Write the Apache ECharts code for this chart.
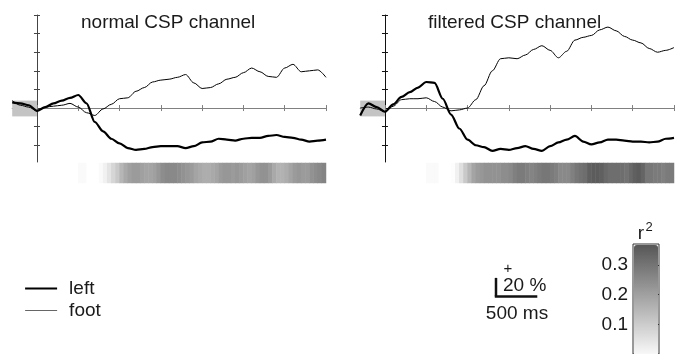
<!DOCTYPE html>
<html>
<head>
<meta charset="utf-8">
<script src="https://cdn.jsdelivr.net/npm/echarts@6/dist/echarts.min.js"></script>
<style>
  html, body { margin: 0; padding: 0; background: #fff; }
  #chart { width: 694px; height: 354px; }
</style>
</head>
<body>
<div id="chart"></div>
<script>
// time (ms) of the sampled points
const times = [-300, -200, -100, 0, 100, 200, 300, 400, 500, 600, 700, 800, 900, 1000,
  1100, 1200, 1300, 1400, 1500, 1600, 1700, 1800, 1900, 2000, 2100, 2200, 2300, 2400,
  2500, 2600, 2700, 2800, 2900, 3000, 3100, 3200, 3300, 3400, 3500];

// normal CSP channel, percent
const normalLeft = [6, 5, 3, -3, 1, 5, 8, 11, 14, 5, -15, -25, -33, -38, -43, -45, -44, -42, -41, -41,
  -41, -43, -41, -37, -36, -33, -34, -35, -33, -32, -32, -30, -29, -31, -32, -34, -36, -35, -34];
const normalFoot = [8, 3, 1, -3, 1, 2, 3, 5, 1, -5, -8, -1, 4, 10, 11, 18, 22, 28, 30, 31,
  33, 36, 27, 21, 22, 26, 31, 33, 38, 43, 39, 34, 33, 43, 47, 39, 40, 41, 33];

// filtered CSP channel, percent
const filteredLeft = [-8, 5, 1, -4, 4, 12, 17, 22, 28, 27, 10, -7, -22, -34, -40, -42, -46, -44, -45, -43,
  -41, -44, -46, -41, -37, -34, -30, -36, -39, -37, -34, -34, -35, -36, -36, -37, -36, -33, -32];
const filteredFoot = [0, 1, -1, -4, 2, 9, 10, 10, 11, 7, 1, -3, -2, 0, 9, 24, 40, 53, 54, 53,
  57, 63, 67, 62, 54, 61, 73, 76, 78, 84, 87, 83, 77, 73, 70, 64, 60, 62, 65];

// r^2 strips, 50 ms bins starting at
const binStarts = [500, 550, 600, 650, 700, 750, 800, 850, 900, 950, 1000, 1050, 1100, 1150,
  1200, 1250, 1300, 1350, 1400, 1450, 1500, 1550, 1600, 1650, 1700, 1750, 1800, 1850, 1900,
  1950, 2000, 2050, 2100, 2150, 2200, 2250, 2300, 2350, 2400, 2450, 2500, 2550, 2600, 2650,
  2700, 2750, 2800, 2850, 2900, 2950, 3000, 3050, 3100, 3150, 3200, 3250, 3300, 3350, 3400, 3450];
const normalR2 = [0.01, 0.01, 0, 0, 0, 0.01, 0.03, 0.06, 0.09, 0.12, 0.16, 0.19, 0.21, 0.22,
  0.22, 0.21, 0.2, 0.2, 0.21, 0.23, 0.25, 0.26, 0.26, 0.26, 0.25, 0.24, 0.23, 0.22, 0.2,
  0.19, 0.18, 0.18, 0.19, 0.2, 0.22, 0.23, 0.23, 0.22, 0.23, 0.22, 0.21, 0.2, 0.21, 0.23,
  0.24, 0.24, 0.22, 0.19, 0.17, 0.17, 0.18, 0.2, 0.22, 0.23, 0.22, 0.22, 0.24, 0.25, 0.26, 0.27];
const filteredR2 = [0.01, 0.01, 0.01, 0, 0, 0, 0.005, 0.03, 0.07, 0.12, 0.16, 0.2, 0.22, 0.23,
  0.24, 0.24, 0.24, 0.24, 0.25, 0.25, 0.26, 0.28, 0.29, 0.29, 0.28, 0.27, 0.28, 0.29, 0.3,
  0.3, 0.29, 0.28, 0.26, 0.26, 0.26, 0.28, 0.3, 0.31, 0.32, 0.35, 0.36, 0.36, 0.35, 0.33,
  0.32, 0.32, 0.32, 0.32, 0.31, 0.33, 0.35, 0.36, 0.34, 0.3, 0.3, 0.29, 0.29, 0.28, 0.29, 0.29];

const xTicks = [0, 500, 1000, 1500, 2000, 2500, 3000, 3500];
const yTicks = [-40, -20, 0, 20, 40, 60, 80, 100];
const r2Ticks = [0.1, 0.2, 0.3];
const baseline = [-300, 0, -9, 8]; // t0, t1, low, high of grey box

const font = "'Liberation Sans', Arial, sans-serif";
const chart = echarts.init(document.getElementById('chart'), null, { renderer: 'canvas' });

// two axes per direction so ticks cross the line
const panelAxes = (grid, xi, yi, yColor) => {
  const xa = [
    {
      gridIndex: grid, type: 'value', min: -300, max: 3500,
      axisLine: { show: true, onZero: true, onZeroAxisIndex: yi, lineStyle: { color: '#808080' } },
      axisTick: { show: true, customValues: xTicks, length: 3, lineStyle: { color: '#808080' } },
      axisLabel: { show: false }, splitLine: { show: false },
    },
    {
      gridIndex: grid, type: 'value', min: -300, max: 3500, position: 'bottom',
      axisLine: { show: false, onZero: true, onZeroAxisIndex: yi },
      axisTick: { show: true, inside: true, customValues: xTicks, length: 3, lineStyle: { color: '#808080' } },
      axisLabel: { show: false }, splitLine: { show: false },
    },
  ];
  const ya = [
    {
      gridIndex: grid, type: 'value', min: -58, max: 100,
      axisLine: { show: true, onZero: true, onZeroAxisIndex: xi, lineStyle: { color: yColor } },
      axisTick: { show: true, customValues: yTicks, length: 3, lineStyle: { color: yColor } },
      axisLabel: { show: false }, splitLine: { show: false },
    },
    {
      gridIndex: grid, type: 'value', min: -58, max: 100, position: 'left',
      axisLine: { show: false, onZero: true, onZeroAxisIndex: xi },
      axisTick: { show: true, inside: true, customValues: yTicks, length: 3, lineStyle: { color: yColor } },
      axisLabel: { show: false }, splitLine: { show: false },
    },
  ];
  return { xa, ya };
};

const p0 = panelAxes(0, 0, 0, '#444');
const p1 = panelAxes(1, 2, 2, '#111');

const stripX = (grid) => ({
  gridIndex: grid, type: 'category', data: binStarts, show: false,
});
const stripY = (grid) => ({
  gridIndex: grid, type: 'category', data: ['r2'], show: false,
});

const lineSeries = (name, data, xi, yi, thick, withBox) => {
  const s = {
    name, type: 'line', xAxisIndex: xi, yAxisIndex: yi,
    data: times.map((t, i) => [t, data[i]]),
    showSymbol: false, symbol: 'none', z: 3,
    smooth: 0.3, smoothMonotone: 'x',
    lineStyle: { color: '#000', width: thick ? 2.2 : 1 },
    itemStyle: { color: '#000' },
  };
  if (withBox) {
    s.markArea = {
      silent: true,
      itemStyle: { color: '#c4c4c4' },
      data: [[{ xAxis: baseline[0], yAxis: baseline[3] }, { xAxis: baseline[1], yAxis: baseline[2] }]],
    };
  }
  return s;
};

const option = {
  animation: false,
  textStyle: { fontFamily: font },
  title: [
    { text: 'normal CSP channel', left: 81, top: 13, padding: 0,
      textStyle: { fontSize: 19, fontWeight: 'normal', color: '#1a1a1a', fontFamily: font } },
    { text: 'filtered CSP channel', left: 428, top: 13, padding: 0,
      textStyle: { fontSize: 19, fontWeight: 'normal', color: '#1a1a1a', fontFamily: font } },
  ],
  legend: {
    data: [
      { name: 'left', lineStyle: { width: 2.2, color: '#000' } },
      { name: 'foot', lineStyle: { width: 1.2, color: '#666' } },
    ],
    orient: 'vertical', left: 24, top: 279, padding: 0,
    itemWidth: 32, itemHeight: 12, itemGap: 3,
    itemStyle: { opacity: 0, borderWidth: 0 },
    textStyle: { fontSize: 19, color: '#1a1a1a', lineHeight: 19, padding: [0, 0, 0, 7] },
  },
  grid: [
    { left: 12.2, top: 15, width: 313.8, height: 147 },
    { left: 360.2, top: 15, width: 313.8, height: 147 },
    { left: 78.3, top: 163, width: 247.7, height: 20 },
    { left: 426.3, top: 163, width: 247.7, height: 20 },
    { left: 633, top: 244, width: 26, height: 116, show: true, borderColor: '#333', borderWidth: 1 },
  ],
  xAxis: [
    ...p0.xa, ...p1.xa, stripX(2), stripX(3),
    { gridIndex: 4, type: 'value', min: 0, max: 1, show: false },
  ],
  yAxis: [
    ...p0.ya, ...p1.ya, stripY(2), stripY(3),
    {
      gridIndex: 4, type: 'value', min: 0, max: 0.37, position: 'left',
      axisLine: { show: false, onZero: false },
      axisTick: { show: false },
      axisLabel: { show: true, customValues: r2Ticks, fontSize: 19, color: '#1a1a1a', margin: 5,
        formatter: (v) => v.toFixed(1) },
      splitLine: { show: false },
    },
    {
      gridIndex: 4, type: 'value', min: 0, max: 0.37, position: 'right',
      axisLine: { show: false, onZero: false },
      axisTick: { show: true, inside: true, customValues: r2Ticks, length: 3, lineStyle: { color: '#333' } },
      axisLabel: { show: false }, splitLine: { show: false },
    },
  ],
  visualMap: {
    type: 'continuous', min: 0, max: 0.37, seriesIndex: [4, 5],
    calculable: false, orient: 'vertical', padding: 0,
    left: 634, top: 245, itemWidth: 24, itemHeight: 114,
    inRange: { color: ['#ffffff', '#575757'] },
    textStyle: { fontSize: 0 },
  },
  series: [
    lineSeries('left', normalLeft, 0, 0, true, true),
    lineSeries('foot', normalFoot, 0, 0, false, false),
    lineSeries('left', filteredLeft, 2, 2, true, true),
    lineSeries('foot', filteredFoot, 2, 2, false, false),
    {
      type: 'heatmap', xAxisIndex: 4, yAxisIndex: 4,
      data: normalR2.map((v, i) => [i, 0, v]),
      itemStyle: { borderWidth: 0 }, emphasis: { disabled: true },
    },
    {
      type: 'heatmap', xAxisIndex: 5, yAxisIndex: 5,
      data: filteredR2.map((v, i) => [i, 0, v]),
      itemStyle: { borderWidth: 0 }, emphasis: { disabled: true },
    },
  ],
};

chart.setOption(option);

// scale bar: 500 ms by 20 %
const o = chart.convertToPixel({ gridIndex: 0 }, [0, 0]);
const q = chart.convertToPixel({ gridIndex: 0 }, [500, 20]);
const dx = q[0] - o[0];
const dy = o[1] - q[1];
const cx = 496, cy = 296.5;

chart.setOption({
  graphic: [
    { type: 'line', shape: { x1: cx, y1: cy - dy, x2: cx, y2: cy }, style: { stroke: '#111', lineWidth: 2.5 } },
    { type: 'line', shape: { x1: cx - 1.2, y1: cy, x2: cx + dx, y2: cy }, style: { stroke: '#111', lineWidth: 2.5 } },
    { type: 'text', x: 508, y: 269, style: { text: '+', fill: '#1a1a1a', font: '15px ' + font, align: 'center', verticalAlign: 'middle' } },
    { type: 'text', x: 503, y: 286, style: { text: '20 %', fill: '#1a1a1a', font: '19px ' + font, align: 'left', verticalAlign: 'middle' } },
    { type: 'text', x: 517, y: 314, style: { text: '500 ms', fill: '#1a1a1a', font: '19px ' + font, align: 'center', verticalAlign: 'middle' } },
    { type: 'text', x: 641, y: 243, style: { text: 'r', fill: '#1a1a1a', font: '19px ' + font, align: 'center', verticalAlign: 'bottom' } },
    { type: 'text', x: 649, y: 234, style: { text: '2', fill: '#1a1a1a', font: '13px ' + font, align: 'center', verticalAlign: 'bottom' } },
  ],
});

window.addEventListener('resize', () => chart.resize());
</script>
</body>
</html>
